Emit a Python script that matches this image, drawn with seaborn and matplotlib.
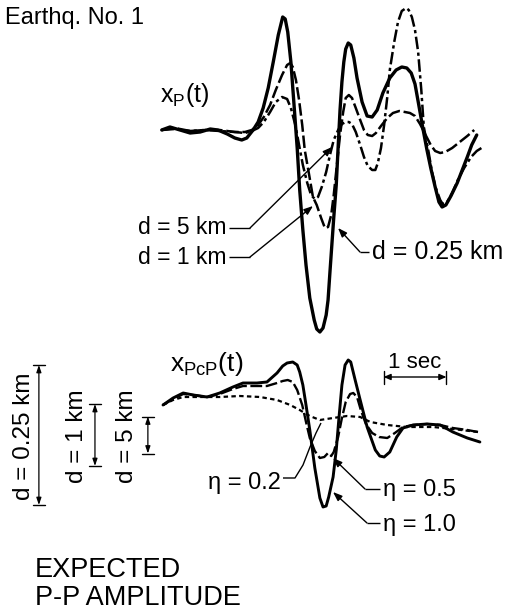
import matplotlib
matplotlib.use("Agg")
import matplotlib.pyplot as plt
import seaborn as sns
import pandas as pd

# ---------------- data (time in s, amplitude in arbitrary units, up = +) -------------
# top panel x_P(t), three source depths d
t_P_d025 = [-0.02, 0.11, 0.27, 0.43, 0.59, 0.75, 0.87, 1.02, 1.14, 1.25, 1.33, 1.43, 1.51, 1.59,
            1.67, 1.75, 1.83, 1.90, 1.94, 1.98, 2.03, 2.08, 2.13, 2.17, 2.22, 2.27, 2.33, 2.40,
            2.44, 2.49, 2.54, 2.59, 2.62, 2.65, 2.68, 2.71, 2.75, 2.78, 2.81, 2.84, 2.87, 2.90,
            2.94, 2.98, 3.03, 3.08, 3.16, 3.24, 3.32, 3.40, 3.49, 3.60, 3.70, 3.79, 3.87, 3.94,
            4.00, 4.06, 4.13, 4.19, 4.25, 4.32, 4.38, 4.43, 4.49, 4.57, 4.67, 4.75, 4.83, 4.90, 4.98]
a_P_d025 = [0, 3, 0, -3, -2, 1, 0, -4, -8, -10, -8, 0, 8, 22,
            42, 68, 95, 113, 111, 98, 68, 25, -18, -60, -100, -135, -168, -190,
            -199, -202, -198, -185, -170, -142, -115, -88, -55, -17, 20, 48, 68, 81,
            87, 85, 72, 52, 28, 14, 13, 20, 37, 52, 60, 63, 62, 57,
            46, 25, 0, -20, -38, -57, -72, -77, -75, -66, -53, -40, -27, -15, -5]

t_P_d1 = [-0.02, 0.19, 0.43, 0.67, 0.90, 1.14, 1.30, 1.41, 1.51, 1.60, 1.70, 1.79, 1.89, 1.97,
          2.02, 2.06, 2.11, 2.16, 2.21, 2.25, 2.32, 2.38, 2.44, 2.51, 2.57, 2.62, 2.67, 2.71,
          2.76, 2.81, 2.86, 2.90, 2.95, 3.00, 3.06, 3.13, 3.19, 3.25, 3.32, 3.38, 3.46, 3.56,
          3.65, 3.75, 3.84, 3.92, 4.00, 4.08, 4.16, 4.25, 4.32, 4.40, 4.48, 4.59, 4.71, 4.83, 4.94]
a_P_d1 = [0, 2, -1, 0, 0, -2, -2, 0, 5, 13, 25, 40, 55, 65,
          67, 63, 50, 30, 5, -20, -45, -67, -75, -88, -98, -97, -85, -65,
          -35, -5, 18, 32, 35, 32, 22, 10, 0, -5, -6, -3, 4, 12,
          17, 19, 18, 17, 14, 6, -4, -15, -21, -23, -22, -18, -12, -6, 0]

t_P_d5 = [-0.02, 0.19, 0.43, 0.67, 0.90, 1.14, 1.30, 1.41, 1.51, 1.60, 1.70, 1.79, 1.89, 1.97,
          2.03, 2.10, 2.16, 2.22, 2.29, 2.35, 2.41, 2.46, 2.52, 2.59, 2.65, 2.71, 2.78, 2.84,
          2.90, 2.95, 3.00, 3.06, 3.13, 3.19, 3.25, 3.32, 3.37, 3.41, 3.46, 3.51, 3.56, 3.60,
          3.67, 3.73, 3.79, 3.86, 3.90, 3.95, 4.00, 4.05, 4.10, 4.14, 4.21, 4.27, 4.33, 4.40,
          4.44, 4.51, 4.59, 4.68, 4.78, 4.89, 4.98, 5.08]
a_P_d5 = [0, 1, -1, 0, -1, -2, -3, -1, 2, 8, 18, 28, 33, 31,
          22, 5, -15, -35, -53, -65, -69, -67, -57, -42, -25, -10, 0, 6,
          8, 8, 6, -2, -15, -27, -36, -40, -40, -33, -18, 5, 33, 60,
          88, 108, 119, 122, 120, 113, 100, 78, 40, 3, -20, -42, -58, -70,
          -74, -72, -63, -50, -38, -27, -21, -17]

# bottom panel x_PcP(t), three values of eta
t_PcP_eta10 = [0.00, 0.16, 0.32, 0.48, 0.70, 0.90, 1.11, 1.27, 1.49, 1.65, 1.81, 1.90, 1.97, 2.06,
               2.13, 2.17, 2.22, 2.27, 2.33, 2.41, 2.49, 2.54, 2.59, 2.63, 2.70, 2.75, 2.79, 2.84,
               2.89, 2.94, 2.98, 3.05, 3.13, 3.24, 3.37, 3.44, 3.51, 3.60, 3.71, 3.81, 3.97, 4.19,
               4.40, 4.60, 4.83, 5.03]
a_PcP_eta10 = [-5, 2, 7, 5, 3, 7, 13, 17, 17, 18, 27, 34, 37, 38,
               35, 28, 15, -5, -30, -68, -98, -107, -106, -97, -77, -50, -20, 15,
               35, 40, 38, 20, 0, -27, -50, -56, -57, -52, -37, -28, -25, -24,
               -25, -32, -38, -42]

t_PcP_eta05 = [0.00, 0.16, 0.32, 0.48, 0.70, 0.90, 1.11, 1.27, 1.49, 1.65, 1.81, 1.90, 1.98, 2.06,
               2.13, 2.21, 2.27, 2.33, 2.41, 2.49, 2.56, 2.62, 2.67, 2.71, 2.78, 2.84, 2.90, 2.97,
               3.02, 3.08, 3.14, 3.22, 3.32, 3.43, 3.56, 3.68, 3.81, 3.97, 4.19, 4.40, 4.60, 4.83, 5.00]
a_PcP_eta05 = [-5, 1, 6, 5, 3, 6, 11, 14, 14, 14, 17, 19, 20, 18,
               10, -5, -22, -38, -51, -58, -57, -53, -56, -52, -37, -18, -2, 6,
               7, 3, -10, -24, -33, -37, -38, -33, -27, -25, -24, -25, -28, -30, -32]

t_PcP_eta02 = [0.00, 0.16, 0.32, 0.59, 0.90, 1.22, 1.54, 1.81, 2.02, 2.17, 2.33, 2.49, 2.70, 2.92,
               3.13, 3.29, 3.56, 3.87, 4.29, 4.60, 5.00]
a_PcP_eta02 = [-5, 0, 3, 3, 3, 4, 3, 0, -5, -10, -16, -20, -18, -16,
               -17, -22, -25, -27, -27, -29, -32]

# expected peak-to-peak amplitudes (same units) and time-scale bar length
pp_labels = ["d = 0.25 km", "d = 1 km", "d = 5 km"]
pp_amplitude = [140, 62, 37]
scale_bar_s = 1.0

# ---------------- styling ----------------
sns.set_theme(style="white")
plt.rcParams["font.family"] = ["Liberation Sans", "DejaVu Sans"]
plt.rcParams["mathtext.default"] = "regular"

W, H = 520, 613
fig = plt.figure(figsize=(W / 100, H / 100), dpi=100)
fig.patch.set_facecolor("white")

T0, PXS = 163, 63.0            # layout: pixel of t=0 and pixels per second
xlim = (-T0 / PXS, (W - T0) / PXS)
ax_top = fig.add_axes([0, 0, 1, 1])
ax_bot = fig.add_axes([0, 0, 1, 1])
ann = fig.add_axes([0, 0, 1, 1])

K = "black"
LONG = (0, (5.0, 1.5))
DASHDOT = (0, (5.0, 1.4, 1.3, 1.4))
SHORT = (0, (2.0, 1.5))

def trace(ax, t, a, lw, ls):
    df = pd.DataFrame({"t": t, "amp": a})
    sns.lineplot(data=df, x="t", y="amp", ax=ax, color=K, linewidth=lw,
                 linestyle=ls, estimator=None, sort=False,
                 solid_capstyle="round", dash_capstyle="butt")

trace(ax_top, t_P_d5, a_P_d5, 1.8, DASHDOT)
trace(ax_top, t_P_d1, a_P_d1, 1.8, LONG)
trace(ax_top, t_P_d025, a_P_d025, 2.4, "-")

trace(ax_bot, t_PcP_eta02, a_PcP_eta02, 1.6, SHORT)
trace(ax_bot, t_PcP_eta05, a_PcP_eta05, 1.7, LONG)
trace(ax_bot, t_PcP_eta10, a_PcP_eta10, 2.1, "-")

# 1 sec scale bar (in data units of the bottom panel)
sb_t0, sb_y = 3.5, 23
ax_bot.annotate("", xy=(sb_t0, sb_y), xytext=(sb_t0 + scale_bar_s, sb_y),
                arrowprops=dict(arrowstyle="<|-|>,head_length=0.35,head_width=0.15",
                                color=K, lw=1.0, shrinkA=0, shrinkB=0, mutation_scale=12))
for tt in (sb_t0, sb_t0 + scale_bar_s):
    ax_bot.plot([tt, tt], [sb_y - 7, sb_y + 6], color=K, lw=1.0)

# expected P-P amplitude bars
pp_t = [-1.97, -1.08, -0.24]
pp_c = -35
cap = 0.1
for tt, amp in zip(pp_t, pp_amplitude):
    ax_bot.annotate("", xy=(tt, pp_c + amp / 2), xytext=(tt, pp_c - amp / 2),
                    arrowprops=dict(arrowstyle="<|-|>,head_length=0.35,head_width=0.12",
                                    color=K, lw=0.9, shrinkA=0, shrinkB=0, mutation_scale=12))
    for yy in (pp_c + amp / 2, pp_c - amp / 2):
        ax_bot.plot([tt - cap, tt + cap], [yy, yy], color=K, lw=1.0)

ax_top.set_xlim(xlim); ax_top.set_ylim(130 - H, 130)
ax_bot.set_xlim(xlim); ax_bot.set_ylim(400 - H, 400)
ann.set_xlim(0, W); ann.set_ylim(H, 0)
for a in (ax_top, ax_bot, ann):
    a.axis("off")

pp_lx = [24, 77, 127]
for lx, lab in zip(pp_lx, pp_labels):
    ann.text(lx, 436, lab, rotation=90, ha="center", va="center", fontsize=17.5, color=K)

# ---------------- texts & leaders (overlay, pixel units) ----------------
def leader(pts, arrow=True):
    xs, ys = zip(*pts)
    n = len(pts) - 1 if arrow else len(pts)
    ann.plot(xs[:n], ys[:n], color=K, lw=1.0, solid_capstyle="butt")
    if arrow:
        ann.annotate("", xy=pts[-1], xytext=pts[-2],
                     arrowprops=dict(arrowstyle="-|>,head_length=0.45,head_width=0.17",
                                     color=K, lw=1.0, shrinkA=0, shrinkB=0, mutation_scale=12))

ann.text(5, 18, "Earthq. No. 1", ha="left", va="center", fontsize=17, color=K)
ann.text(160, 95, r"$x_P(t)$", ha="left", va="center", fontsize=18, color=K)
ann.text(226, 228, "d = 5 km", ha="right", va="center", fontsize=16.5, color=K)
ann.text(226, 257, "d = 1 km", ha="right", va="center", fontsize=16.5, color=K)
ann.text(372, 252, "d = 0.25 km", ha="left", va="center", fontsize=18, color=K)
leader([(229, 228), (250, 228), (332, 147)])
leader([(229, 257), (250, 257), (313, 206)])
leader([(369, 252), (360, 252), (338, 228)])

ann.text(170, 364, r"$x_{PcP}(t)$", ha="left", va="center", fontsize=19, color=K)
ann.text(415, 362, "1 sec", ha="center", va="center", fontsize=16, color=K)
ann.text(281, 483, "η = 0.2", ha="right", va="center", fontsize=17, color=K)
ann.text(383, 490, "η = 0.5", ha="left", va="center", fontsize=17, color=K)
ann.text(383, 525, "η = 1.0", ha="left", va="center", fontsize=17, color=K)
leader([(283, 478), (295, 478), (303, 465), (310, 447), (316, 433), (321, 423)], arrow=False)
leader([(380, 489), (365, 489), (333, 458)])
leader([(380, 523), (367, 523), (333, 492)])

ann.text(35, 570, "EXPECTED", ha="left", va="center", fontsize=19.5, color=K)
ann.text(35, 598, "P-P AMPLITUDE", ha="left", va="center", fontsize=19.5, color=K)

fig.savefig("out.png", dpi=100, facecolor="white")
